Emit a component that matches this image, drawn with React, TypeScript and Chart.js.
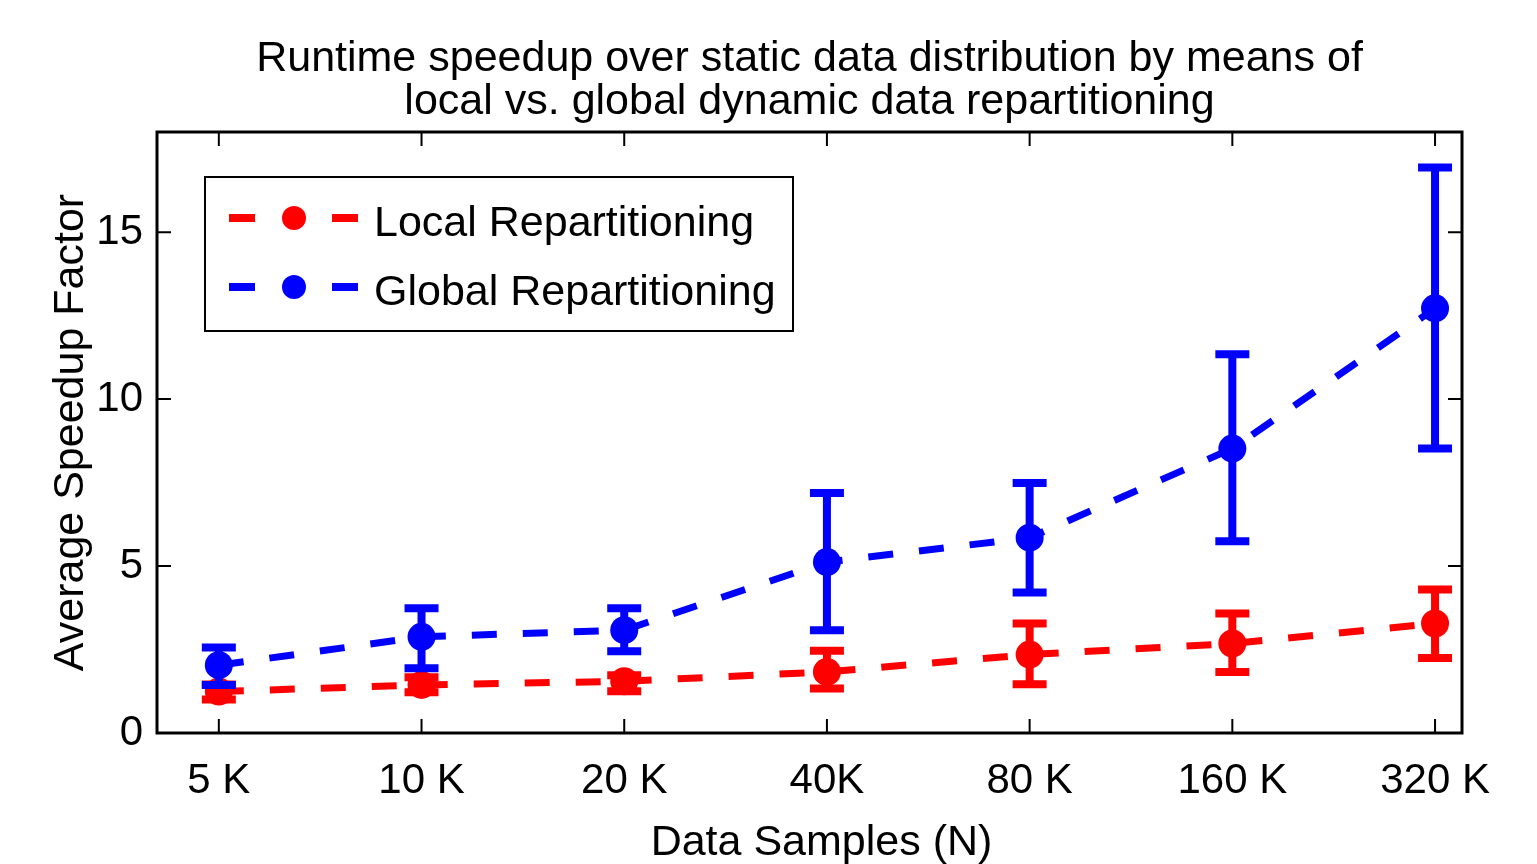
import React, { useEffect, useRef } from 'react';
import { Chart, registerables } from 'chart.js';

Chart.register(...registerables);

const categories = ['5 K', '10 K', '20 K', '40K', '80 K', '160 K', '320 K'];
const localMean = [1.24, 1.44, 1.55, 1.83, 2.35, 2.68, 3.28];
const localLow = [1.0, 1.22, 1.25, 1.33, 1.46, 1.83, 2.25];
const localHigh = [1.45, 1.67, 1.73, 2.46, 3.28, 3.58, 4.3];
const globalMean = [2.03, 2.88, 3.08, 5.12, 5.85, 8.52, 12.72];
const globalLow = [1.44, 1.94, 2.45, 3.08, 4.21, 5.74, 8.52];
const globalHigh = [2.56, 3.74, 3.74, 7.19, 7.49, 11.34, 16.94];
const yTicks = [0, 5, 10, 15];
const seriesNames = ['Local Repartitioning', 'Global Repartitioning'];
const titleLines = ['Runtime speedup over static data distribution by means of', 'local vs. global dynamic data repartitioning'];
const xAxisTitle = 'Data Samples (N)';
const yAxisTitle = 'Average Speedup Factor';

const FONT = "'Liberation Sans', Arial, Helvetica, sans-serif";
const RED = '#ff0000';
const BLUE = '#0000ff';

const errLows = [localLow, globalLow];
const errHighs = [localHigh, globalHigh];

const errorBarPlugin = {
  id: 'errorBars',
  afterDatasetDraw(chart: any, args: any) {
    const i = args.index;
    const ds = chart.data.datasets[i];
    const xs = chart.scales.x;
    const ys = chart.scales.y;
    const ctx = chart.ctx;
    ctx.save();
    ctx.strokeStyle = ds.borderColor;
    ctx.lineWidth = 8;
    ctx.lineCap = 'butt';
    ctx.setLineDash([]);
    const lows = errLows[i];
    const highs = errHighs[i];
    for (let k = 0; k < lows.length; k++) {
      const px = xs.getPixelForValue(k + 1);
      const pl = ys.getPixelForValue(lows[k]);
      const ph = ys.getPixelForValue(highs[k]);
      ctx.beginPath();
      ctx.moveTo(px, pl);
      ctx.lineTo(px, ph);
      ctx.moveTo(px - 17, pl);
      ctx.lineTo(px + 17, pl);
      ctx.moveTo(px - 17, ph);
      ctx.lineTo(px + 17, ph);
      ctx.stroke();
    }
    ctx.restore();
  },
};

const framePlugin = {
  id: 'frame',
  afterDatasetsDraw(chart: any) {
    const { ctx, chartArea: a } = chart;
    const xs = chart.scales.x;
    const ys = chart.scales.y;
    ctx.save();
    ctx.strokeStyle = '#000';
    ctx.setLineDash([]);
    ctx.lineWidth = 2;
    const tl = 14;
    ctx.beginPath();
    xs.ticks.forEach((t: any) => {
      const p = xs.getPixelForValue(t.value);
      ctx.moveTo(p, a.bottom);
      ctx.lineTo(p, a.bottom - tl);
      ctx.moveTo(p, a.top);
      ctx.lineTo(p, a.top + tl);
    });
    ys.ticks.forEach((t: any) => {
      const p = ys.getPixelForValue(t.value);
      ctx.moveTo(a.left, p);
      ctx.lineTo(a.left + tl, p);
      ctx.moveTo(a.right, p);
      ctx.lineTo(a.right - tl, p);
    });
    ctx.stroke();
    ctx.lineWidth = 3;
    ctx.strokeRect(a.left, a.top, a.right - a.left, a.bottom - a.top);
    // x axis title
    ctx.fillStyle = '#000';
    ctx.font = `43px ${FONT}`;
    ctx.textAlign = 'center';
    ctx.textBaseline = 'middle';
    ctx.fillText(xAxisTitle, (a.left + a.right) / 2 + 12, a.bottom + 110);
    ctx.restore();
  },
};

const legendPlugin = {
  id: 'customLegend',
  afterDraw(chart: any) {
    const { ctx, chartArea: a } = chart;
    const bx = a.left + 48;
    const by = a.top + 45;
    const bw = 588;
    const bh = 154;
    ctx.save();
    ctx.fillStyle = '#fff';
    ctx.fillRect(bx, by, bw, bh);
    ctx.strokeStyle = '#000';
    ctx.lineWidth = 2;
    ctx.setLineDash([]);
    ctx.strokeRect(bx, by, bw, bh);
    const rows = [by + 41, by + 110];
    seriesNames.forEach((name, i) => {
      const ds = chart.data.datasets.find((d: any) => d.label === name);
      const y = rows[i];
      ctx.strokeStyle = ds.borderColor;
      ctx.lineWidth = 8;
      ctx.lineCap = 'butt';
      ctx.setLineDash([26, 77]);
      ctx.beginPath();
      ctx.moveTo(bx + 24, y);
      ctx.lineTo(bx + 153, y);
      ctx.stroke();
      ctx.setLineDash([]);
      ctx.fillStyle = ds.borderColor;
      ctx.beginPath();
      ctx.arc(bx + 89, y, 12, 0, Math.PI * 2);
      ctx.fill();
      ctx.fillStyle = '#000';
      ctx.font = `43px ${FONT}`;
      ctx.textBaseline = 'middle';
      ctx.textAlign = 'left';
      ctx.fillText(name, bx + 169, y + 6);
    });
    ctx.restore();
  },
};

export default function App() {
  const ref = useRef<HTMLCanvasElement | null>(null);
  useEffect(() => {
    document.body.style.margin = '0';
    const canvas = ref.current;
    if (!canvas) return;
    const chart = new Chart(canvas, {
      type: 'line',
      data: {
        datasets: [
          {
            label: seriesNames[0],
            data: localMean.map((v, i) => ({ x: i + 1, y: v })),
            borderColor: RED,
            backgroundColor: RED,
            borderWidth: 7,
            borderDash: [25, 26],
            borderCapStyle: 'butt',
            pointRadius: 14,
            pointBorderWidth: 0,
            pointBackgroundColor: RED,
            order: 1,
            tension: 0,
          },
          {
            label: seriesNames[1],
            data: globalMean.map((v, i) => ({ x: i + 1, y: v })),
            borderColor: BLUE,
            backgroundColor: BLUE,
            borderWidth: 7,
            borderDash: [25, 26],
            borderCapStyle: 'butt',
            pointRadius: 14,
            pointBorderWidth: 0,
            pointBackgroundColor: BLUE,
            order: 0,
            tension: 0,
          },
        ],
      },
      options: {
        responsive: false,
        animation: false,
        devicePixelRatio: 1,
        layout: { padding: { left: 0, right: 75, top: 0, bottom: 0 } },
        plugins: {
          legend: { display: false },
          tooltip: { enabled: false },
          title: {
            display: true,
            fullSize: false,
            text: titleLines,
            color: '#000',
            font: { family: FONT, size: 43, weight: 'normal', lineHeight: 1 },
            padding: { top: 38, bottom: 8 },
          },
        },
        scales: {
          x: {
            type: 'linear',
            min: 0.695,
            max: 7.133,
            grid: { display: false, drawTicks: false },
            border: { display: false },
            afterBuildTicks: (s: any) => {
              s.ticks = categories.map((_, i) => ({ value: i + 1 }));
            },
            afterFit: (s: any) => {
              s.height = 131;
            },
            ticks: {
              autoSkip: false,
              maxRotation: 0,
              padding: 27,
              color: '#000',
              font: { family: FONT, size: 42, lineHeight: 1 },
              callback: (v: any) => categories[Math.round(v) - 1] ?? '',
            },
            title: { display: false },
          },
          y: {
            type: 'linear',
            min: 0,
            max: 18,
            grid: { display: false, drawTicks: false },
            border: { display: false },
            afterBuildTicks: (s: any) => {
              s.ticks = yTicks.map((v) => ({ value: v }));
            },
            afterFit: (s: any) => {
              s.width = 157;
            },
            ticks: {
              padding: 14,
              color: '#000',
              font: { family: FONT, size: 42, lineHeight: 1 },
            },
            title: {
              display: true,
              text: yAxisTitle,
              color: '#000',
              font: { family: FONT, size: 43, lineHeight: 1 },
              padding: { top: 50, bottom: 0 },
            },
          },
        },
      },
      plugins: [errorBarPlugin, framePlugin, legendPlugin],
    });
    return () => chart.destroy();
  }, []);
  return (
    <div style={{ position: 'fixed', left: 0, top: 0, width: 1537, height: 864, background: '#fff' }}>
      <canvas ref={ref} width={1537} height={864} style={{ width: '1537px', height: '864px', display: 'block' }} />
    </div>
  );
}
